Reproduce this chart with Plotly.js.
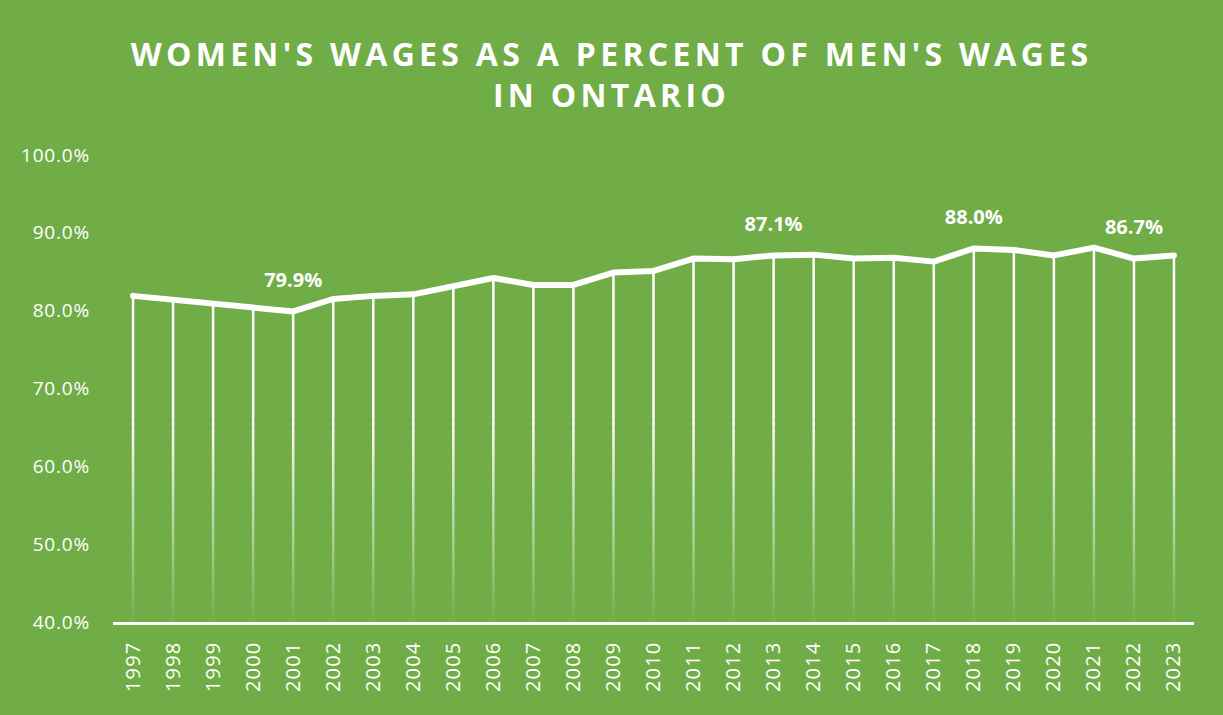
<!DOCTYPE html>
<html>
<head>
<meta charset="utf-8">
<script src="https://cdn.plot.ly/plotly-3.0.1.min.js"></script>
<style>
  html, body { margin: 0; padding: 0; background: #70AD47; }
  #chart { width: 1223px; height: 715px; }
  .gtitle { letter-spacing: 4.3px; }
  .xtick text { letter-spacing: 1.2px; }
  .ytick text { letter-spacing: 0.8px; }
  .js-line { stroke-linecap: round; stroke-linejoin: round; }
</style>
</head>
<body>
<div id="chart"></div>
<script>
const years = ['1997','1998','1999','2000','2001','2002','2003','2004','2005','2006','2007','2008','2009',
               '2010','2011','2012','2013','2014','2015','2016','2017','2018','2019','2020','2021','2022','2023'];
const ratio = [81.9, 81.4, 80.8, 80.3, 79.9, 81.5, 81.9, 82.1, 83.2, 84.2, 83.3, 83.3, 84.9,
               85.1, 86.7, 86.6, 87.1, 87.2, 86.7, 86.8, 86.3, 88.0, 87.8, 87.1, 88.1, 86.7, 87.1];
const labelYears = ['2001', '2013', '2018', '2022'];
const yTicks = [40, 50, 60, 70, 80, 90, 100];
const yTickText = yTicks.map(v => v.toFixed(1) + '%');

const axisMin = 40, axisMax = 100, fadeStart = 66, fadeSteps = 26;
const GREEN = '#70AD47';
const FONT = 'Open Sans, sans-serif';

const traces = [];
// drop lines: solid part from each point down to fadeStart
traces.push({
  x: years, y: ratio, type: 'scatter', mode: 'markers',
  marker: {size: 0.1, color: 'rgba(0,0,0,0)'},
  error_y: {type: 'data', symmetric: false, array: ratio.map(() => 0),
            arrayminus: ratio.map(v => v - fadeStart), color: 'white', thickness: 2.5, width: 0},
  hoverinfo: 'skip'
});
// fading part, segment by segment
const step = (fadeStart - axisMin) / fadeSteps;
for (let k = 0; k < fadeSteps; k++) {
  const top = fadeStart - k * step;
  const a = 1 - (k + 0.5) / fadeSteps * 0.97;
  traces.push({
    x: years, y: years.map(() => top), type: 'scatter', mode: 'markers',
    marker: {size: 0.1, color: 'rgba(0,0,0,0)'},
    error_y: {type: 'data', symmetric: false, array: years.map(() => 0),
              arrayminus: years.map(() => step), color: 'rgba(255,255,255,' + a.toFixed(3) + ')',
              thickness: 2.5, width: 0},
    hoverinfo: 'skip'
  });
}
// main line
traces.push({
  x: years, y: ratio, type: 'scatter', mode: 'lines',
  line: {color: 'white', width: 6}, hoverinfo: 'x+y'
});
// data labels
const labelVals = labelYears.map(yr => ratio[years.indexOf(yr)]);
traces.push({
  x: labelYears, y: labelVals, type: 'scatter', mode: 'markers+text',
  marker: {size: 30, color: 'rgba(0,0,0,0)'},
  text: labelVals.map(v => v.toFixed(1) + '%'), textposition: 'top center',
  textfont: {family: FONT, size: 20, color: 'white', weight: 'bold'},
  hoverinfo: 'skip'
});

const layout = {
  width: 1223, height: 715,
  paper_bgcolor: GREEN, plot_bgcolor: GREEN,
  margin: {l: 113, r: 29, t: 155, b: 93},
  title: {
    text: "WOMEN'S WAGES AS A PERCENT OF MEN'S WAGES<br>IN ONTARIO",
    font: {family: FONT, size: 32, color: 'white', weight: 'bold'},
    x: 0.5, xanchor: 'center', y: 0.908, yanchor: 'middle'
  },
  xaxis: {
    type: 'category', range: [-0.5, years.length - 0.5],
    showline: true, linecolor: 'white', linewidth: 2.5,
    showgrid: false, zeroline: false, ticks: '', tickangle: -90,
    tickfont: {family: FONT, size: 20, color: 'white'}, ticklabelstandoff: 9
  },
  yaxis: {
    range: [axisMin, axisMax], tickvals: yTicks, ticktext: yTickText,
    showline: false, showgrid: false, zeroline: false, ticks: '',
    tickfont: {family: FONT, size: 19, color: 'white'}, ticklabelstandoff: 22
  },
  showlegend: false
};

Plotly.newPlot('chart', traces, layout, {displayModeBar: false, staticPlot: true});
</script>
</body>
</html>
